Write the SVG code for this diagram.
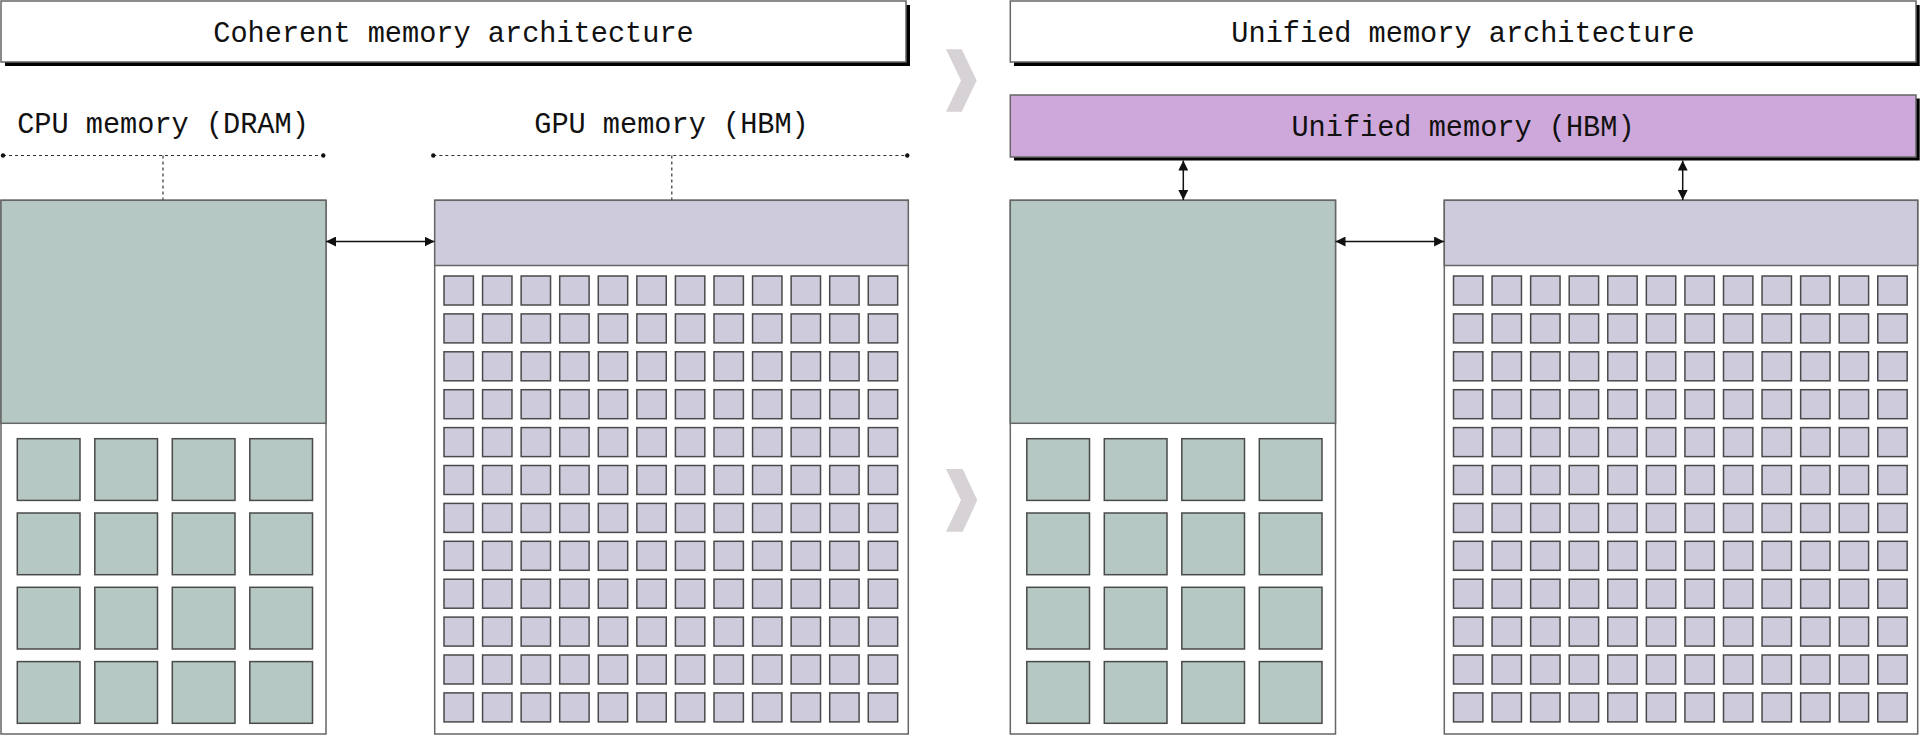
<svg xmlns="http://www.w3.org/2000/svg" xmlns:xlink="http://www.w3.org/1999/xlink" width="1920" height="736" viewBox="0 0 1920 736">
<style>
  .txt { font-family: "Liberation Mono", "DejaVu Sans Mono", monospace; font-size: 28.6px; fill: #111; text-anchor: middle; }
  .box { stroke: #666; stroke-width: 1.5; }
  .shadow { fill: #000; }
  .white { fill: #fff; }
  .cpu { fill: #b5c8c3; }
  .gpu { fill: #cecbdc; }
  .uni { fill: #cfa8db; }
  .cell { stroke: #4a4a4a; stroke-width: 1.5; }
  .dotline { stroke: #333; stroke-width: 1.2; stroke-dasharray: 3 3; fill: none; }
  .dot { fill: #111; }
  .conn { stroke: #111; stroke-width: 1.5; fill: none; }
  .chev { fill: #d6d2d6; }
</style>
<defs>
  <marker id="arrow" viewBox="0 0 10 10" refX="10" refY="5" markerWidth="10" markerHeight="10" markerUnits="userSpaceOnUse" orient="auto-start-reverse">
    <path d="M0,0 L10,5 L0,10 z" fill="#111"/>
  </marker>
  <g id="gpuRow" class="gpu cell">
    <rect x="0" y="0" width="29.4" height="29"/>
    <rect x="38.57" y="0" width="29.4" height="29"/>
    <rect x="77.14" y="0" width="29.4" height="29"/>
    <rect x="115.71" y="0" width="29.4" height="29"/>
    <rect x="154.28" y="0" width="29.4" height="29"/>
    <rect x="192.85" y="0" width="29.4" height="29"/>
    <rect x="231.42" y="0" width="29.4" height="29"/>
    <rect x="269.99" y="0" width="29.4" height="29"/>
    <rect x="308.56" y="0" width="29.4" height="29"/>
    <rect x="347.13" y="0" width="29.4" height="29"/>
    <rect x="385.7" y="0" width="29.4" height="29"/>
    <rect x="424.27" y="0" width="29.4" height="29"/>
  </g>
  <g id="gpuGrid">
    <use xlink:href="#gpuRow" y="0"/>
    <use xlink:href="#gpuRow" y="37.9"/>
    <use xlink:href="#gpuRow" y="75.8"/>
    <use xlink:href="#gpuRow" y="113.7"/>
    <use xlink:href="#gpuRow" y="151.6"/>
    <use xlink:href="#gpuRow" y="189.5"/>
    <use xlink:href="#gpuRow" y="227.4"/>
    <use xlink:href="#gpuRow" y="265.3"/>
    <use xlink:href="#gpuRow" y="303.2"/>
    <use xlink:href="#gpuRow" y="341.1"/>
    <use xlink:href="#gpuRow" y="379"/>
    <use xlink:href="#gpuRow" y="416.9"/>
  </g>
  <g id="cpuRow" class="cpu cell">
    <rect x="0" y="0" width="62.7" height="61.7"/>
    <rect x="77.5" y="0" width="62.7" height="61.7"/>
    <rect x="155" y="0" width="62.7" height="61.7"/>
    <rect x="232.5" y="0" width="62.7" height="61.7"/>
  </g>
  <g id="cpuGrid">
    <use xlink:href="#cpuRow" y="0"/>
    <use xlink:href="#cpuRow" y="74.3"/>
    <use xlink:href="#cpuRow" y="148.6"/>
    <use xlink:href="#cpuRow" y="222.9"/>
  </g>
</defs>

<rect x="0" y="0" width="1920" height="736" fill="#fff"/>

<!-- Left side: coherent memory architecture -->
<g id="title-coherent">
  <rect class="shadow" x="5" y="5" width="905" height="61"/>
  <rect class="white box" x="1" y="1" width="905" height="61"/>
  <text class="txt" x="453.5" y="41.5">Coherent memory architecture</text>
</g>

<g id="label-cpu-memory">
  <text class="txt" x="163" y="133">CPU memory (DRAM)</text>
  <line class="dotline" x1="3" y1="155.5" x2="323" y2="155.5"/>
  <circle class="dot" cx="3" cy="155.5" r="2.2"/>
  <circle class="dot" cx="323.3" cy="155.5" r="2.2"/>
  <line class="dotline" x1="163" y1="155.5" x2="163" y2="200"/>
</g>

<g id="label-gpu-memory">
  <text class="txt" x="671.5" y="133">GPU memory (HBM)</text>
  <line class="dotline" x1="433.3" y1="155.5" x2="907.3" y2="155.5"/>
  <circle class="dot" cx="433.3" cy="155.5" r="2.2"/>
  <circle class="dot" cx="907.3" cy="155.5" r="2.2"/>
  <line class="dotline" x1="671.8" y1="155.5" x2="671.8" y2="200"/>
</g>

<g id="cpu-left">
  <rect class="white box" x="1" y="200.3" width="325" height="533.7"/>
  <rect class="cpu box" x="1" y="200.3" width="325" height="223"/>
  <use xlink:href="#cpuGrid" x="17.3" y="438.7"/>
</g>

<g id="gpu-left">
  <rect class="white box" x="434.7" y="200.3" width="473.6" height="533.7"/>
  <rect class="gpu box" x="434.7" y="200.3" width="473.6" height="65.2"/>
  <use xlink:href="#gpuGrid" x="444" y="276"/>
</g>

<!-- Chevrons -->
<g id="chevrons">
  <polygon class="chev" points="946,49.3 961.7,49.3 976.7,80.5 961.7,111.7 946,111.7 961,80.5"/>
  <polygon class="chev" points="946,469 962.7,469 977.3,500.3 962.7,531.7 946,531.7 961,500.3"/>
</g>

<!-- Right side: unified memory architecture -->
<g id="title-unified">
  <rect class="shadow" x="1014" y="5" width="905.7" height="61"/>
  <rect class="white box" x="1010.3" y="1" width="905.7" height="61"/>
  <text class="txt" x="1463" y="41.5">Unified memory architecture</text>
</g>

<g id="unified-memory">
  <rect class="shadow" x="1014" y="98.5" width="905.7" height="62"/>
  <rect class="uni box" x="1010.3" y="95" width="905.7" height="62"/>
  <text class="txt" x="1463" y="135.5">Unified memory (HBM)</text>
</g>

<g id="cpu-right">
  <rect class="white box" x="1010.3" y="200.3" width="325.2" height="533.7"/>
  <rect class="cpu box" x="1010.3" y="200.3" width="325.2" height="223"/>
  <use xlink:href="#cpuGrid" x="1026.8" y="438.7"/>
</g>

<g id="gpu-right">
  <rect class="white box" x="1444.3" y="200.3" width="473.4" height="533.7"/>
  <rect class="gpu box" x="1444.3" y="200.3" width="473.4" height="65.2"/>
  <use xlink:href="#gpuGrid" x="1453.5" y="276"/>
</g>

<!-- Connectors -->
<g id="connectors">
  <line class="conn" x1="326" y1="241.5" x2="434.5" y2="241.5" marker-start="url(#arrow)" marker-end="url(#arrow)"/>
  <line class="conn" x1="1335.5" y1="241.5" x2="1444.1" y2="241.5" marker-start="url(#arrow)" marker-end="url(#arrow)"/>
  <line class="conn" x1="1183.3" y1="160.5" x2="1183.3" y2="200" marker-start="url(#arrow)" marker-end="url(#arrow)"/>
  <line class="conn" x1="1682.7" y1="160.5" x2="1682.7" y2="200" marker-start="url(#arrow)" marker-end="url(#arrow)"/>
</g>
</svg>
